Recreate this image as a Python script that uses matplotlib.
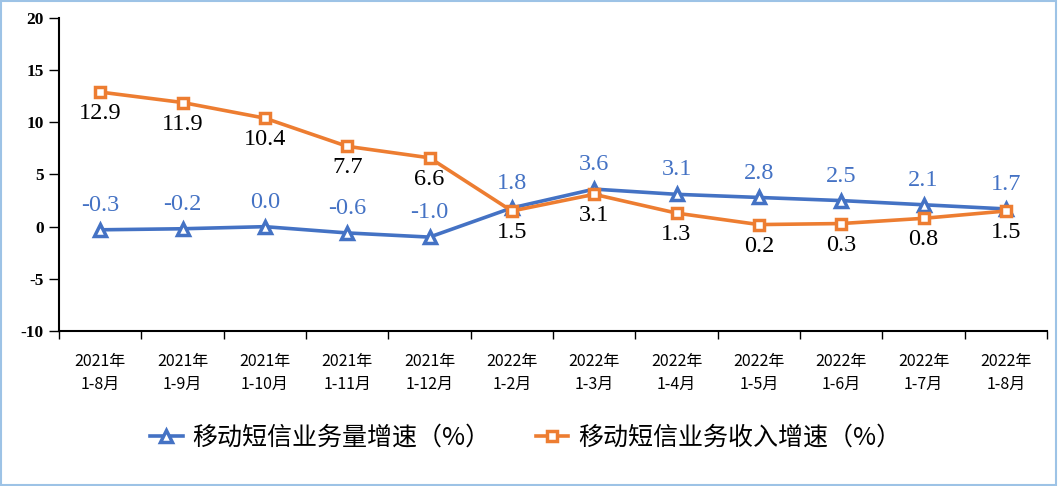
import numpy as np
import matplotlib.pyplot as plt
from matplotlib.patches import Rectangle

categories = ["2021年\n1-8月", "2021年\n1-9月", "2021年\n1-10月", "2021年\n1-11月",
              "2021年\n1-12月", "2022年\n1-2月", "2022年\n1-3月", "2022年\n1-4月",
              "2022年\n1-5月", "2022年\n1-6月", "2022年\n1-7月", "2022年\n1-8月"]
volume_growth = [-0.3, -0.2, 0.0, -0.6, -1.0, 1.8, 3.6, 3.1, 2.8, 2.5, 2.1, 1.7]
revenue_growth = [12.9, 11.9, 10.4, 7.7, 6.6, 1.5, 3.1, 1.3, 0.2, 0.3, 0.8, 1.5]
volume_name = "移动短信业务量增速（%）"
revenue_name = "移动短信业务收入增速（%）"

BLUE = "#4472C4"
ORANGE = "#ED7D31"
CJK = ["Noto Sans CJK SC", "DejaVu Sans"]
SERIF = "Liberation Serif"

fig = plt.figure(figsize=(10.58, 4.86), dpi=100)
ax = fig.add_axes([0.0558, 0.3189, 0.9338, 0.6441])

x = np.arange(len(categories))
ax.plot(x, volume_growth, color=BLUE, lw=2.6, marker="^", ms=9,
        mfc="white", mec=BLUE, mew=2.5, label=volume_name, zorder=3)
ax.plot(x, revenue_growth, color=ORANGE, lw=2.6, marker="s", ms=6.5,
        mfc="white", mec=ORANGE, mew=2.5, label=revenue_name, zorder=4)

for xi, v in zip(x, volume_growth):
    ax.annotate(f"{v:.1f}", (xi, v), xytext=(0, 10), textcoords="offset points",
                ha="center", va="bottom", color=BLUE, fontsize=17.5, family=SERIF)
for xi, v in zip(x, revenue_growth):
    ax.annotate(f"{v:.1f}", (xi, v), xytext=(0, -8), textcoords="offset points",
                ha="center", va="top", color="black", fontsize=17.5, family=SERIF)

ax.set_xlim(-0.5, len(categories) - 0.5)
ax.set_ylim(-10, 20)
ax.set_yticks(np.arange(-10, 21, 5))
ax.set_yticklabels([str(t) for t in range(-10, 21, 5)], family=SERIF,
                   fontweight="bold", fontsize=12.5)
ax.tick_params(axis="y", direction="out", length=7, width=1, pad=4)

ax.set_xticks(x)
ax.set_xticklabels(categories, family=CJK, fontsize=11.5, linespacing=1.45)
ax.tick_params(axis="x", which="major", length=0, pad=16)
ax.set_xticks(np.arange(-0.5, len(categories)), minor=True)
ax.tick_params(axis="x", which="minor", direction="out", length=6, width=1)

for side in ["top", "right"]:
    ax.spines[side].set_visible(False)
ax.spines["left"].set_linewidth(1.5)
ax.spines["bottom"].set_linewidth(1.5)

fig.legend(loc="center", bbox_to_anchor=(0.497, 0.099), ncol=2, frameon=False,
           prop={"family": CJK, "size": 18}, handlelength=1.3, columnspacing=1.8,
           handletextpad=0.4)

fig.patches.append(Rectangle((0.001, 0.002), 0.997, 0.996, transform=fig.transFigure,
                             fill=False, edgecolor="#9DC3E6", lw=1.5))

fig.savefig("out.png", dpi=100)
